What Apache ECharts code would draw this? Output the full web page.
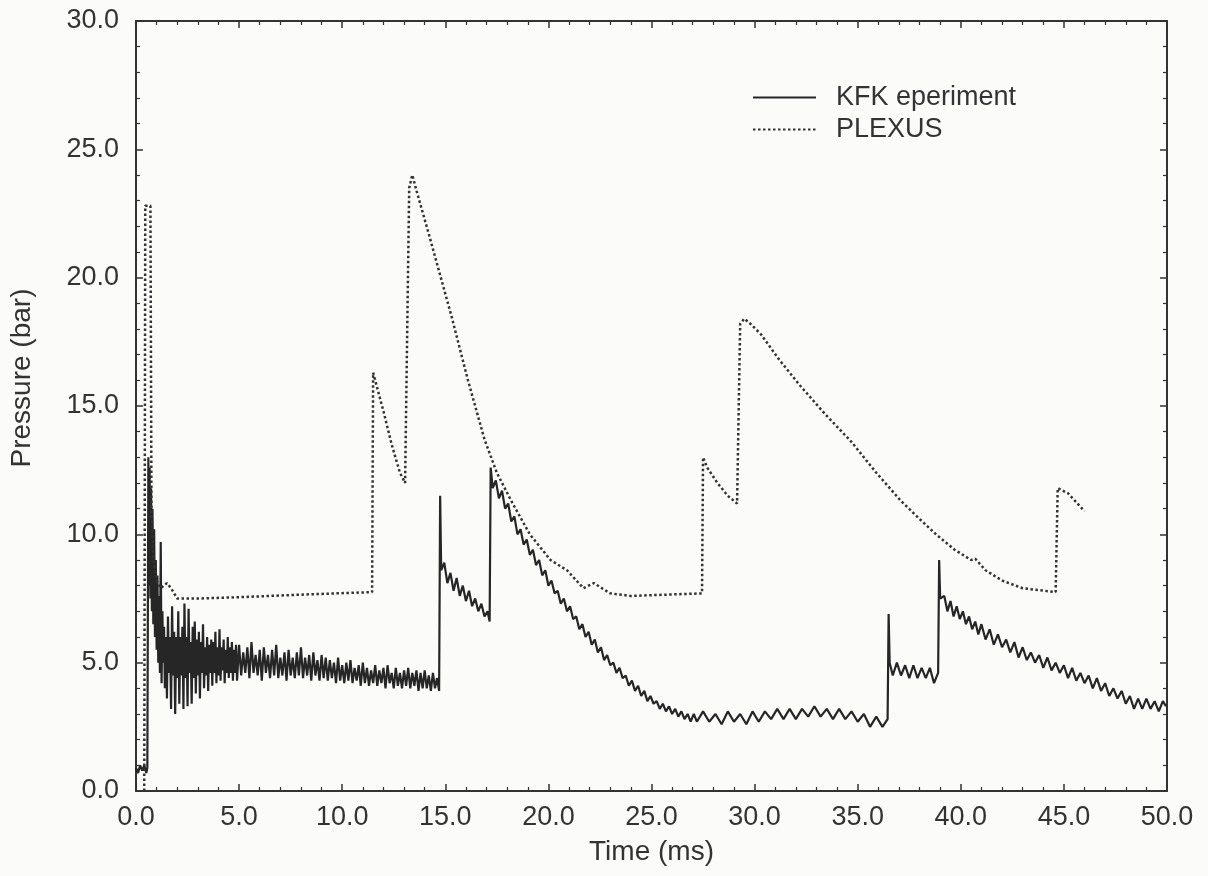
<!DOCTYPE html>
<html>
<head>
<meta charset="utf-8">
<title>Pressure vs time</title>
<script src="https://cdn.jsdelivr.net/npm/echarts@6/dist/echarts.min.js"></script>
<style>
  html, body { margin: 0; padding: 0; background: #fbfbfa; }
  #chart { width: 1208px; height: 876px; }
</style>
</head>
<body>
<div id="chart"></div>
<script>
const kfkData = [
  [0.0, 0.9], [0.1, 0.7], [0.2, 1.0], [0.3, 0.8], [0.4, 1.0], [0.5, 0.7], [0.55, 0.9],
  [0.6, 13.0], [0.63, 8.0], [0.66, 12.6], [0.7, 7.5], [0.73, 11.8], [0.77, 7.0], [0.8, 11.0],
  [0.84, 6.5], [0.88, 10.2], [0.92, 6.0], [0.96, 9.0], [1.0, 5.5], [1.04, 8.4], [1.08, 5.0],
  [1.12, 7.6], [1.16, 4.6], [1.2, 9.7], [1.24, 4.2], [1.28, 7.0], [1.32, 5.0], [1.36, 6.4],
  [1.4, 4.0], [1.45, 6.0], [1.5, 3.6], [1.55, 6.8], [1.6, 4.6], [1.65, 6.0], [1.7, 3.2],
  [1.75, 7.2], [1.8, 4.5], [1.85, 6.2], [1.9, 3.0], [1.95, 6.0], [2.0, 4.4], [2.05, 7.0],
  [2.1, 3.4], [2.15, 6.0], [2.2, 4.5], [2.25, 6.4], [2.3, 3.2], [2.35, 7.3], [2.4, 4.4],
  [2.45, 6.0], [2.5, 3.3], [2.55, 7.1], [2.6, 4.6], [2.65, 5.8], [2.7, 3.4], [2.75, 6.4],
  [2.8, 4.4], [2.85, 6.6], [2.9, 3.8], [2.95, 5.9], [3.0, 4.5], [3.05, 6.2], [3.1, 3.6],
  [3.15, 5.8], [3.2, 4.6], [3.25, 6.5], [3.3, 4.0], [3.35, 5.6], [3.4, 4.5], [3.45, 6.0],
  [3.5, 3.9], [3.55, 5.7], [3.6, 4.6], [3.65, 5.9], [3.7, 4.1], [3.75, 5.8], [3.8, 4.6],
  [3.85, 6.2], [3.9, 4.2], [3.95, 5.6], [4.0, 4.5], [4.05, 6.3], [4.1, 4.3], [4.15, 5.6],
  [4.2, 4.7], [4.25, 5.9], [4.3, 4.2], [4.35, 5.5], [4.4, 4.6], [4.45, 6.0], [4.5, 4.4],
  [4.55, 5.6], [4.6, 4.6], [4.65, 5.8], [4.7, 4.3], [4.75, 5.5], [4.8, 4.6], [4.85, 5.7],
  [4.9, 4.3],
  [5.0, 5.7], [5.1, 4.5], [5.2, 5.4], [5.3, 4.6], [5.4, 5.6], [5.5, 4.4], [5.6, 5.8],
  [5.7, 4.6], [5.8, 5.3], [5.9, 4.5], [6.0, 5.5], [6.1, 4.3], [6.2, 5.6], [6.3, 4.6],
  [6.4, 5.3], [6.5, 4.4], [6.6, 5.5], [6.7, 4.5], [6.8, 5.7], [6.9, 4.4], [7.0, 5.2],
  [7.1, 4.5], [7.2, 5.4], [7.3, 4.3], [7.4, 5.5], [7.5, 4.5], [7.6, 5.2], [7.7, 4.4],
  [7.8, 5.4], [7.9, 4.5], [8.0, 5.6], [8.1, 4.4], [8.2, 5.2], [8.3, 4.5], [8.4, 5.3],
  [8.5, 4.3], [8.6, 5.4], [8.7, 4.5], [8.8, 5.1], [8.9, 4.3], [9.0, 5.3], [9.1, 4.4],
  [9.2, 5.2], [9.3, 4.3], [9.4, 5.1], [9.5, 4.4], [9.6, 5.0], [9.7, 4.2], [9.8, 5.2],
  [9.9, 4.3], [10.0, 4.9], [10.1, 4.2], [10.2, 5.0], [10.3, 4.3], [10.4, 5.1], [10.5, 4.2],
  [10.6, 4.8], [10.7, 4.3], [10.8, 4.9], [10.9, 4.1], [11.0, 5.0], [11.1, 4.2], [11.2, 4.8],
  [11.3, 4.1], [11.4, 4.7], [11.5, 4.2], [11.6, 4.9], [11.7, 4.1], [11.8, 4.7], [11.9, 4.2],
  [12.0, 4.8], [12.1, 4.0], [12.2, 4.9], [12.3, 4.2], [12.4, 4.6], [12.5, 4.0], [12.6, 4.8],
  [12.7, 4.1], [12.8, 4.6], [12.9, 4.0], [13.0, 4.7], [13.1, 4.1], [13.2, 4.8], [13.3, 4.0],
  [13.4, 4.6], [13.5, 4.1], [13.6, 4.7], [13.7, 3.9], [13.8, 4.6], [13.9, 4.0], [14.0, 4.7],
  [14.1, 4.0], [14.2, 4.5], [14.3, 3.9], [14.4, 4.6], [14.5, 4.0], [14.6, 4.4], [14.7, 3.9],
  [14.75, 11.5], [14.8, 8.6], [14.95, 8.9], [15.1, 8.1], [15.25, 8.5], [15.4, 7.8],
  [15.55, 8.3], [15.7, 7.6], [15.85, 8.0], [16.0, 7.4], [16.15, 7.8], [16.3, 7.2],
  [16.45, 7.5], [16.6, 7.0], [16.75, 7.3], [16.9, 6.8], [17.05, 7.0], [17.15, 6.6],
  [17.2, 12.6], [17.3, 11.8], [17.45, 12.1], [17.6, 11.4], [17.75, 11.7], [17.9, 11.0],
  [18.05, 11.2], [18.2, 10.5], [18.35, 10.7], [18.5, 10.0], [18.65, 10.2], [18.8, 9.6],
  [18.95, 9.8], [19.1, 9.2], [19.25, 9.4], [19.4, 8.8], [19.55, 9.0], [19.7, 8.4],
  [19.85, 8.6], [20.0, 8.0], [20.15, 8.2], [20.3, 7.7], [20.45, 7.8], [20.6, 7.3],
  [20.75, 7.5], [20.9, 7.0], [21.05, 7.2], [21.2, 6.7], [21.35, 6.8], [21.5, 6.3],
  [21.65, 6.5], [21.8, 6.0], [21.95, 6.2], [22.1, 5.7], [22.25, 5.9], [22.4, 5.4],
  [22.55, 5.6], [22.7, 5.1], [22.85, 5.3], [23.0, 4.9], [23.15, 5.0], [23.3, 4.6],
  [23.45, 4.8], [23.6, 4.4], [23.75, 4.5], [23.9, 4.1], [24.05, 4.3], [24.2, 3.9],
  [24.35, 4.1], [24.5, 3.7], [24.65, 3.9], [24.8, 3.5], [24.95, 3.7], [25.1, 3.4],
  [25.25, 3.5], [25.4, 3.2], [25.55, 3.4], [25.7, 3.1], [25.85, 3.3], [26.0, 3.0],
  [26.15, 3.2], [26.3, 2.9], [26.45, 3.1], [26.6, 2.8], [26.75, 3.0], [26.9, 2.7],
  [27.05, 3.0], [27.2, 2.7], [27.5, 3.1], [27.8, 2.7], [28.1, 3.0], [28.4, 2.6],
  [28.7, 3.1], [29.0, 2.7], [29.3, 3.0], [29.6, 2.6], [29.9, 3.1], [30.2, 2.7],
  [30.5, 3.1], [30.8, 2.8], [31.1, 3.2], [31.4, 2.8], [31.7, 3.2], [32.0, 2.8],
  [32.3, 3.2], [32.6, 2.9], [32.9, 3.3], [33.2, 2.9], [33.5, 3.2], [33.8, 2.8],
  [34.1, 3.2], [34.4, 2.8], [34.7, 3.1], [35.0, 2.7], [35.3, 3.0], [35.6, 2.5],
  [35.9, 2.9], [36.2, 2.5], [36.45, 2.8],
  [36.5, 6.9], [36.55, 5.0], [36.7, 4.5], [36.9, 5.0], [37.1, 4.5], [37.3, 4.9],
  [37.5, 4.4], [37.7, 4.9], [37.9, 4.4], [38.1, 4.8], [38.3, 4.4], [38.5, 4.8],
  [38.7, 4.2], [38.9, 4.6],
  [38.95, 9.0], [39.0, 7.5], [39.2, 7.6], [39.35, 7.0], [39.5, 7.4], [39.65, 6.8],
  [39.8, 7.2], [39.95, 6.7], [40.1, 7.0], [40.25, 6.5], [40.4, 6.8], [40.55, 6.3],
  [40.7, 6.6], [40.85, 6.1], [41.0, 6.5], [41.2, 5.9], [41.4, 6.3], [41.6, 5.7],
  [41.8, 6.1], [42.0, 5.6], [42.2, 5.9], [42.4, 5.4], [42.6, 5.8], [42.8, 5.2],
  [43.0, 5.6], [43.2, 5.1], [43.4, 5.4], [43.6, 5.0], [43.8, 5.3], [44.0, 4.8],
  [44.2, 5.2], [44.4, 4.7], [44.6, 5.0], [44.8, 4.6], [45.0, 4.9], [45.2, 4.4],
  [45.4, 4.8], [45.6, 4.3], [45.8, 4.6], [46.0, 4.2], [46.2, 4.5], [46.4, 4.0],
  [46.6, 4.4], [46.8, 3.9], [47.0, 4.2], [47.2, 3.7], [47.4, 4.0], [47.6, 3.6],
  [47.8, 3.9], [48.0, 3.4], [48.2, 3.7], [48.4, 3.2], [48.6, 3.6], [48.8, 3.2],
  [49.0, 3.6], [49.2, 3.2], [49.4, 3.5], [49.6, 3.1], [49.8, 3.5], [49.95, 3.3]
];

// PLEXUS simulation, [time ms, pressure bar]
const plexusData = [
  [0.4, 0.0], [0.45, 22.8], [0.7, 22.8], [0.75, 11.0], [0.85, 9.0], [1.0, 8.2],
  [1.2, 7.9], [1.5, 8.1], [1.7, 7.9], [2.0, 7.5], [3.0, 7.5], [5.0, 7.55], [8.0, 7.65],
  [11.45, 7.75], [11.5, 16.3], [11.6, 16.0], [12.0, 14.8], [12.4, 13.5], [12.8, 12.4],
  [13.05, 12.0], [13.25, 23.5], [13.4, 24.0], [13.6, 23.4], [14.2, 21.7], [15.3, 18.5],
  [16.1, 16.0], [16.9, 13.7], [17.5, 12.4], [18.2, 11.3], [19.1, 10.0], [20.1, 9.0],
  [20.9, 8.6], [21.7, 7.9], [22.2, 8.1], [23.0, 7.7], [24.0, 7.6], [27.45, 7.7],
  [27.5, 13.0], [27.7, 12.6], [28.2, 12.0], [28.7, 11.5], [29.15, 11.2], [29.3, 18.2],
  [29.5, 18.4], [29.8, 18.2], [30.3, 17.8], [31.2, 16.8], [32.2, 15.8], [33.4, 14.7],
  [34.7, 13.6], [35.9, 12.4], [37.1, 11.3], [38.0, 10.6], [38.8, 10.0], [39.7, 9.4],
  [40.5, 9.0], [40.7, 9.05], [41.2, 8.6], [42.0, 8.2], [43.0, 7.9], [44.6, 7.75],
  [44.7, 11.8], [45.2, 11.6], [46.0, 10.9]
];

const chart = echarts.init(document.getElementById('chart'));

const ink = '#333';
const font = 'Liberation Sans, Arial, sans-serif';

const tickStyle = { inside: true, length: 7, lineStyle: { color: ink, width: 1.5 } };
const minorStyle = { show: true, splitNumber: 5, length: 4, lineStyle: { color: ink, width: 1.2 } };
const frameLine = { show: true, onZero: false, lineStyle: { color: ink, width: 2 } };

const option = {
  backgroundColor: '#fbfbfa',
  textStyle: { fontFamily: font },
  animation: false,
  grid: { left: 134, right: 41, top: 21, bottom: 85 },
  legend: {
    left: 752,
    top: 84,
    padding: 0,
    orient: 'vertical',
    itemWidth: 63,
    itemHeight: 14,
    itemGap: 5,
    itemStyle: { opacity: 0 },
    textStyle: { fontSize: 27, color: ink, fontFamily: font, padding: [0, 0, 0, 15] },
    data: ['KFK eperiment', 'PLEXUS']
  },
  xAxis: [
    {
      type: 'value', min: 0, max: 50, interval: 5,
      name: 'Time (ms)', nameLocation: 'middle', nameGap: 47,
      nameTextStyle: { fontSize: 28, color: ink },
      axisLine: frameLine,
      axisTick: tickStyle, minorTick: minorStyle,
      axisLabel: { fontSize: 27, color: ink, margin: 13, formatter: v => v.toFixed(1) },
      splitLine: { show: false }
    },
    {
      type: 'value', min: 0, max: 50, interval: 5, position: 'top',
      axisLine: frameLine,
      axisTick: tickStyle, minorTick: minorStyle,
      axisLabel: { show: false }, splitLine: { show: false }
    }
  ],
  yAxis: [
    {
      type: 'value', min: 0, max: 30, interval: 5,
      name: 'Pressure (bar)', nameLocation: 'middle', nameGap: 100,
      nameTextStyle: { fontSize: 28, color: ink, padding: [0, 0, 0, 56] },
      axisLine: frameLine,
      axisTick: tickStyle, minorTick: minorStyle,
      axisLabel: { fontSize: 27, color: ink, margin: 17, formatter: v => v.toFixed(1) },
      splitLine: { show: false }
    },
    {
      type: 'value', min: 0, max: 30, interval: 5, position: 'right',
      axisLine: frameLine,
      axisTick: tickStyle, minorTick: minorStyle,
      axisLabel: { show: false }, splitLine: { show: false }
    }
  ],
  series: [
    {
      name: 'KFK eperiment',
      type: 'line',
      data: kfkData,
      showSymbol: false,
      symbol: 'none',
      lineStyle: { color: '#262626', width: 2.2 },
      itemStyle: { color: '#262626' }
    },
    {
      name: 'PLEXUS',
      type: 'line',
      data: plexusData,
      showSymbol: false,
      symbol: 'none',
      lineStyle: { color: '#333', width: 2.5, type: [2.5, 2.5] },
      itemStyle: { color: '#333' }
    }
  ]
};

chart.setOption(option);
</script>
</body>
</html>
